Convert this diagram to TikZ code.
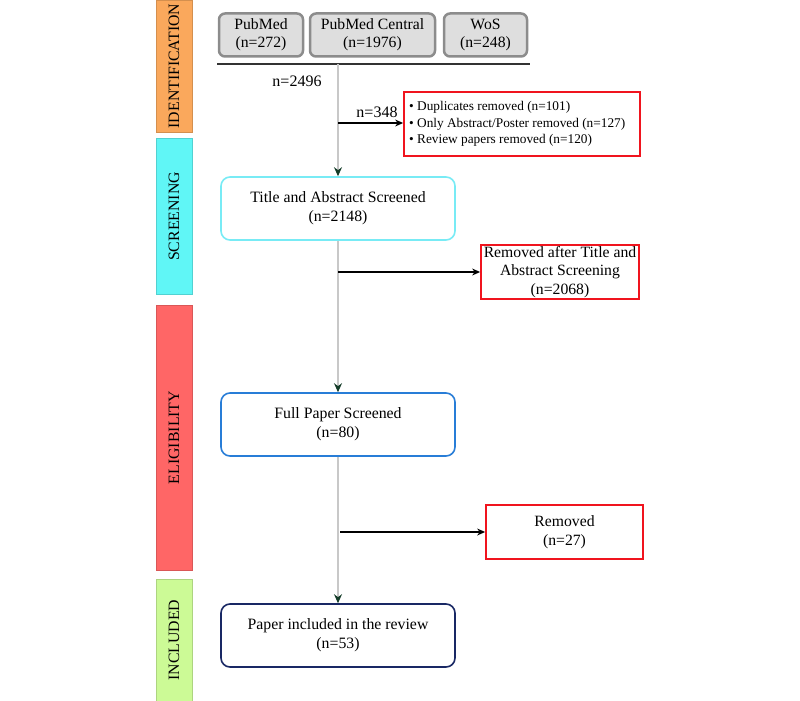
\documentclass[tikz,border=0pt]{standalone}
\usepackage{fontspec}
\setmainfont{Liberation Serif}
\usetikzlibrary{arrows.meta}
\definecolor{idc}{RGB}{250,168,92}
\definecolor{scc}{RGB}{96,246,246}
\definecolor{elc}{RGB}{255,102,102}
\definecolor{inc}{RGB}{204,250,150}
\definecolor{srcfill}{RGB}{222,222,222}
\definecolor{srcdraw}{RGB}{140,140,140}
\definecolor{cyanb}{RGB}{120,235,245}
\definecolor{blueb}{RGB}{40,125,215}
\definecolor{navyb}{RGB}{25,40,100}
\definecolor{redb}{RGB}{240,20,30}
\definecolor{flow}{RGB}{200,200,200}
\definecolor{tipc}{RGB}{20,60,40}
\begin{document}
\begin{tikzpicture}[x=1pt,y=-1pt,
  bar/.style={rectangle, inner sep=0pt, minimum height=36pt, rotate=90, font=\fontsize{15.8}{18}\selectfont},
  src/.style={rectangle, rounded corners=6pt, draw=srcdraw, line width=2.5pt, fill=srcfill, minimum height=43pt, inner sep=0pt, align=center, font=\fontsize{15.7}{18}\selectfont},
  stage/.style={rectangle, rounded corners=9pt, line width=1.6pt, minimum width=234pt, minimum height=63pt, inner sep=0pt, align=center, font=\fontsize{15.8}{19}\selectfont},
  removed/.style={rectangle, draw=redb, line width=1.8pt, inner sep=0pt, align=center, font=\fontsize{15.7}{18.5}\selectfont},
  flowline/.style={draw=flow, line width=1.5pt},
  flowarrow/.style={flowline, -{Stealth[length=9pt,width=8pt,color=tipc]}},
  sidearrow/.style={draw=black, line width=1.1pt, -{Stealth[length=8pt,width=7pt]}},
  lbl/.style={font=\fontsize{16}{18}\selectfont, inner sep=0pt}
]
\useasboundingbox (0,0) rectangle (800,701);
% side bars
\node[bar, fill=idc, draw=idc!85!black, line width=0.4pt, minimum width=132pt] (bid) at (174,66) {IDENTIFICATION};
\node[bar, fill=scc, draw=scc!85!black, line width=0.4pt, minimum width=156pt] (bsc) at (174,216.5) {SCREENING};
\node[bar, fill=elc, draw=elc!85!black, line width=0.4pt, minimum width=265pt] (bel) at (174,437.5) {ELIGIBILITY};
\node[bar, fill=inc, draw=inc!85!black, line width=0.4pt, minimum width=122pt] (bin) at (174,640) {INCLUDED};
% sources
\node[src, minimum width=84pt] (pm) at (261,35) {PubMed\\(n=272)};
\node[src, minimum width=125pt] (pmc) at (372.5,35) {PubMed Central\\(n=1976)};
\node[src, minimum width=83pt] (wos) at (485.5,35) {WoS\\(n=248)};
\coordinate (hl) at (217,64);
\coordinate (hr) at (530,64);
\coordinate (top) at (338,64);
\draw[line width=1.2pt, draw=black!80] (hl) -- (hr);
\node[lbl] (n2496) at (297,81) {n=2496};
% duplicates box
\node[removed, minimum width=236pt, minimum height=64pt] (dup) at (522,124) {};
\node[anchor=west, inner sep=0pt, align=left, font=\fontsize{13.3}{16.5}\selectfont] (duptxt) at (409,124) {\textbullet\ Duplicates removed (n=101)\\\textbullet\ Only Abstract/Poster removed (n=127)\\\textbullet\ Review papers removed (n=120)};
% stages
\node[stage, draw=cyanb] (tas) at (338,208.5) {Title and Abstract Screened\\(n=2148)};
\node[removed, minimum width=158pt, minimum height=54pt] (rem1) at (560,272) {Removed after Title and\\Abstract Screening\\(n=2068)};
\node[stage, draw=blueb] (fps) at (338,424.5) {Full Paper Screened\\(n=80)};
\node[removed, minimum width=157pt, minimum height=54pt] (rem2) at (564.5,532) {Removed\\(n=27)};
\node[stage, draw=navyb] (incl) at (338,635.5) {Paper included in the review\\(n=53)};
% flow
\draw[flowarrow] (top) -- (tas.north);
\draw[flowarrow] (tas.south) -- (fps.north);
\draw[flowarrow] (fps.south) -- (incl.north);
\coordinate (s1) at (338,123);
\coordinate (s2) at (338,272);
\coordinate (s3) at (340,532);
\draw[sidearrow] (s1) -- (dup.west |- s1);
\draw[sidearrow] (s2) -- (rem1.west |- s2);
\draw[sidearrow] (s3) -- (rem2.west |- s3);
\node[lbl] (n348) at (377,112) {n=348};
\end{tikzpicture}
\end{document}
